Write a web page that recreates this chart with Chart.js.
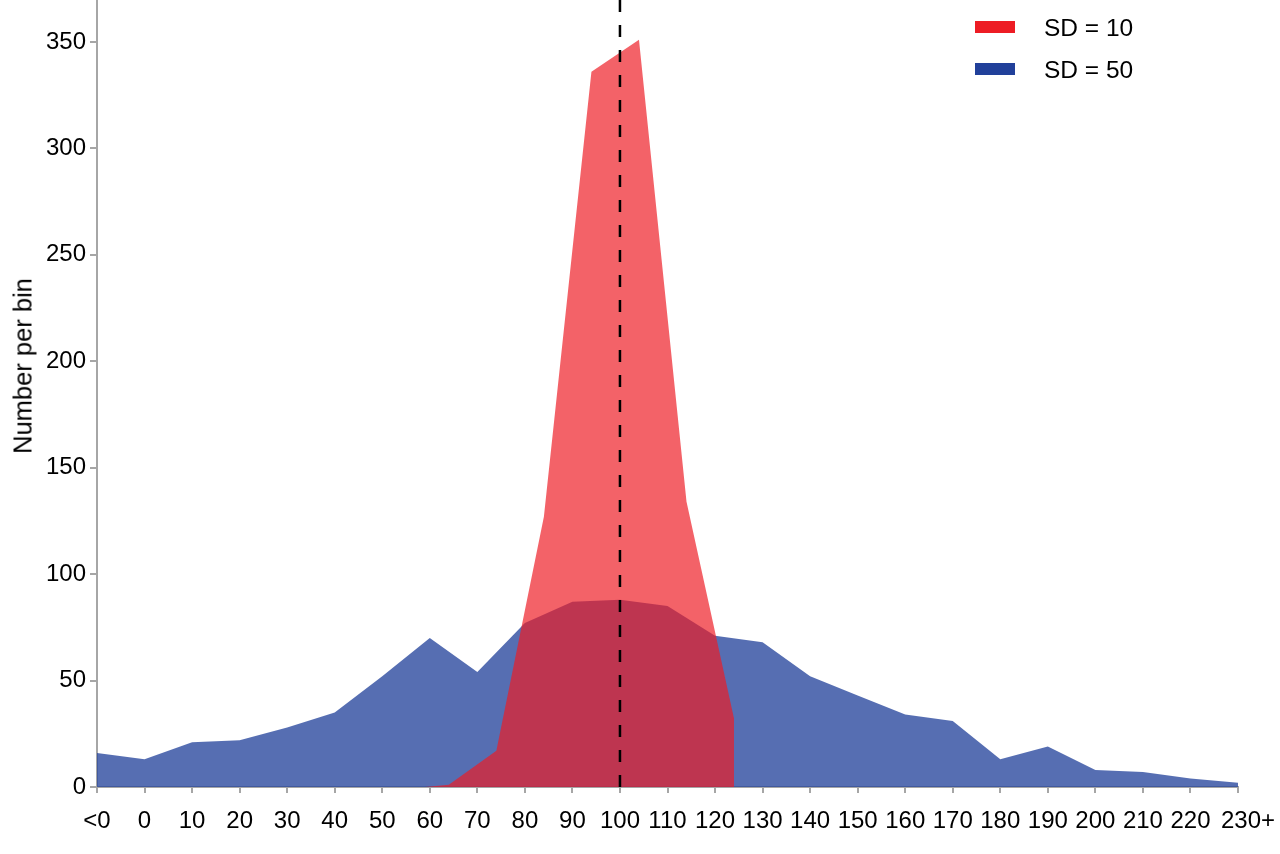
<!DOCTYPE html>
<html>
<head>
<meta charset="utf-8">
<script src="https://cdn.jsdelivr.net/npm/chart.js@4.4.1/dist/chart.umd.min.js"></script>
<style>
  html, body { margin: 0; padding: 0; background: #ffffff; }
  #wrap { position: relative; width: 1280px; height: 854px; }
  #legend { position: absolute; left: 975px; top: 10px; font-family: "Liberation Sans", Arial, sans-serif; font-size: 24.5px; color: #000; }
  .item { position: relative; height: 42px; }
  .sw { position: absolute; left: 0; top: 11px; width: 40px; height: 12px; }
  .lbl { position: absolute; left: 69px; top: 4px; line-height: 28px; white-space: nowrap; }
  #ytitle { position: absolute; left: 23px; top: 366px; transform: translate(-50%, -50%) rotate(-90deg); font-family: "Liberation Sans", Arial, sans-serif; font-size: 25.5px; color: #000; white-space: nowrap; }
</style>
</head>
<body>
<div id="wrap">
  <canvas id="c" width="1280" height="854"></canvas>
  <div id="legend"></div>
  <div id="ytitle"></div>
</div>
<script>
// ---- data ----
const xTickValues = [-10, 0, 10, 20, 30, 40, 50, 60, 70, 80, 90, 100, 110, 120, 130, 140, 150, 160, 170, 180, 190, 200, 210, 220, 230];
const xTickLabels = ['<0', '0', '10', '20', '30', '40', '50', '60', '70', '80', '90', '100', '110', '120', '130', '140', '150', '160', '170', '180', '190', '200', '210', '220', '230+'];
const sd50X = [-10, 0, 10, 20, 30, 40, 50, 60, 70, 80, 90, 100, 110, 120, 130, 140, 150, 160, 170, 180, 190, 200, 210, 220, 230];
const sd50Y = [16, 13, 21, 22, 28, 35, 52, 70, 54, 77, 87, 88, 85, 71, 68, 52, 43, 34, 31, 13, 19, 8, 7, 4, 2];
const sd10X = [59, 64, 74, 84, 94, 104, 114, 124];
const sd10Y = [0, 1, 17, 127, 336, 351, 134, 32];
const yTicks = [0, 50, 100, 150, 200, 250, 300, 350];
const Y_MAX = 369.7;
const REF_X = 100;
const yTitle = 'Number per bin';
const seriesNames = ['SD = 10', 'SD = 50'];
const legendColors = ['#ED1C24', '#21409A'];

const toPts = (xs, ys) => xs.map((x, i) => ({ x: x, y: ys[i] }));
const FONT = { family: '"Liberation Sans", Arial, sans-serif', size: 24 };
const AXIS_GRAY = '#A6A6A6';
const NB = '\u00A0';

new Chart(document.getElementById('c'), {
  type: 'line',
  data: {
    datasets: [
      {
        label: 'ref',
        data: [{ x: REF_X, y: 0 }, { x: REF_X, y: Y_MAX }],
        borderColor: '#000000',
        borderWidth: 2.5,
        borderDash: [12, 13],
        pointRadius: 0,
        fill: false,
        order: 0
      },
      {
        label: seriesNames[0],
        data: toPts(sd10X, sd10Y),
        backgroundColor: 'rgba(237,28,36,0.69)',
        borderWidth: 0,
        borderColor: 'rgba(0,0,0,0)',
        pointRadius: 0,
        fill: 'origin',
        tension: 0,
        order: 1
      },
      {
        label: seriesNames[1],
        data: toPts(sd50X, sd50Y),
        backgroundColor: 'rgba(33,64,154,0.76)',
        borderWidth: 0,
        borderColor: 'rgba(0,0,0,0)',
        pointRadius: 0,
        fill: 'origin',
        tension: 0,
        order: 2
      }
    ]
  },
  options: {
    responsive: false,
    animation: false,
    devicePixelRatio: 1,
    layout: { padding: { left: 0, right: 42, top: 0, bottom: 0 } },
    plugins: { legend: { display: false }, tooltip: { enabled: false } },
    scales: {
      x: {
        type: 'linear',
        min: -10,
        max: 230,
        afterBuildTicks: (s) => { s.ticks = xTickValues.map(v => ({ value: v })); },
        afterFit: (s) => { s.height = 67; s.paddingLeft = 0; s.paddingRight = 0; },
        ticks: {
          autoSkip: false,
          maxRotation: 0,
          minRotation: 0,
          padding: 14,
          color: '#000',
          font: FONT,
          callback: (v) => {
            const i = xTickValues.indexOf(v);
            if (i < 0) return '';
            // last label sits slightly right of its tick, as in the original
            return i === xTickValues.length - 1 ? NB + NB + NB + xTickLabels[i] : xTickLabels[i];
          }
        },
        grid: { drawOnChartArea: false, drawTicks: true, tickLength: 6, color: AXIS_GRAY, lineWidth: 2 },
        border: { display: true, color: AXIS_GRAY, width: 2 }
      },
      y: {
        type: 'linear',
        min: 0,
        max: Y_MAX,
        afterBuildTicks: (s) => { s.ticks = yTicks.map(v => ({ value: v })); },
        afterFit: (s) => { s.width = 97; s.paddingTop = 0; },
        ticks: { padding: 4, color: '#000', font: FONT },
        title: { display: false },
        grid: { drawOnChartArea: false, drawTicks: true, tickLength: 7, color: AXIS_GRAY, lineWidth: 2 },
        border: { display: true, color: AXIS_GRAY, width: 2 }
      }
    }
  }
});

document.getElementById('ytitle').textContent = yTitle;

// legend
const lg = document.getElementById('legend');
seriesNames.forEach((n, i) => {
  const it = document.createElement('div');
  it.className = 'item';
  const sw = document.createElement('div');
  sw.className = 'sw';
  sw.style.background = legendColors[i];
  const lb = document.createElement('div');
  lb.className = 'lbl';
  lb.textContent = n;
  it.appendChild(sw); it.appendChild(lb);
  lg.appendChild(it);
});
</script>
</body>
</html>
